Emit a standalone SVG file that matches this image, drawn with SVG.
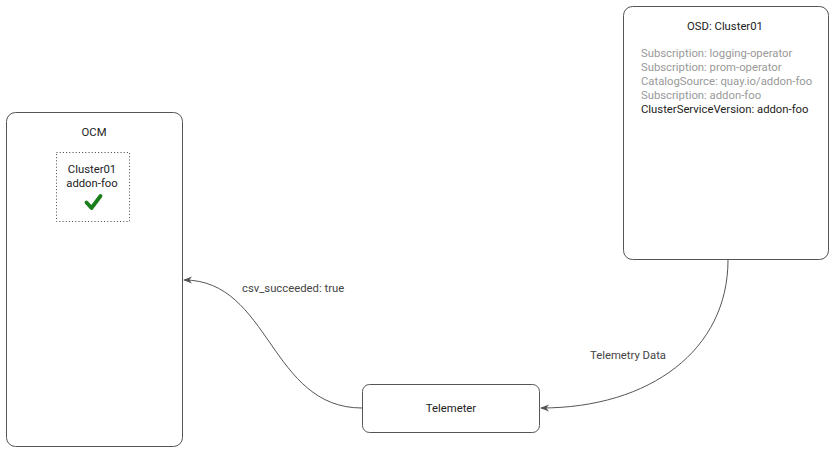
<svg xmlns="http://www.w3.org/2000/svg" width="840" height="452" viewBox="0 0 840 452">
<style>
.box{fill:#fff;stroke:#555;stroke-width:1}
.t{font-family:Roboto,"Liberation Sans",sans-serif;font-size:11.3px;fill:#222}
.g{fill:#999}
.l{fill:#444}
.c{fill:#fff;stroke:#444;stroke-width:1;stroke-dasharray:1 2.2}
.e{fill:none;stroke:#555;stroke-width:1}
</style>
<defs>
<marker id="arr" viewBox="0 0 10 10" refX="9" refY="5" markerWidth="9" markerHeight="9" markerUnits="userSpaceOnUse" orient="auto">
<path d="M0,1 L10,5 L0,9 L3,5 Z" fill="#555"/>
</marker>
</defs>
<rect width="840" height="452" fill="#fff"/>
<g id="ocm">
<rect class="box" x="6.5" y="112.5" width="176" height="334" rx="9"/>
<text class="t" x="94" y="136" text-anchor="middle">OCM</text>
</g>
<g id="cluster01">
<rect class="c" x="56.5" y="152.5" width="73" height="69"/>
<text class="t" x="92" y="173" text-anchor="middle">Cluster01</text>
<text class="t" x="92" y="187" text-anchor="middle">addon-foo</text>
<path d="M86.5,202.5 L91.5,208 L100.5,196" fill="none" stroke="#1a7f1a" stroke-width="3.8" stroke-linecap="round" stroke-linejoin="round"/>
</g>
<g id="osd">
<rect class="box" x="623.5" y="6.5" width="205" height="253" rx="9"/>
<text class="t" x="725" y="30" text-anchor="middle">OSD: Cluster01</text>
<text class="t g" x="641" y="57">Subscription: logging-operator</text>
<text class="t g" x="641" y="71">Subscription: prom-operator</text>
<text class="t g" x="641" y="85">CatalogSource: quay.io/addon-foo</text>
<text class="t g" x="641" y="99">Subscription: addon-foo</text>
<text class="t" x="641" y="113">ClusterServiceVersion: addon-foo</text>
</g>
<g id="telemeter">
<rect class="box" x="362.5" y="384.5" width="177" height="48" rx="7"/>
<text class="t" x="451" y="412" text-anchor="middle">Telemeter</text>
</g>
<g id="connectors">
<path class="e" d="M728,260 C728,350 650,408 541,408" marker-end="url(#arr)"/>
<path class="e" d="M362,408 C270,408 270,280 184,280" marker-end="url(#arr)"/>
<text class="t l" x="590" y="359">Telemetry Data</text>
<text class="t l" x="242" y="292">csv_succeeded: true</text>
</g>
</svg>
